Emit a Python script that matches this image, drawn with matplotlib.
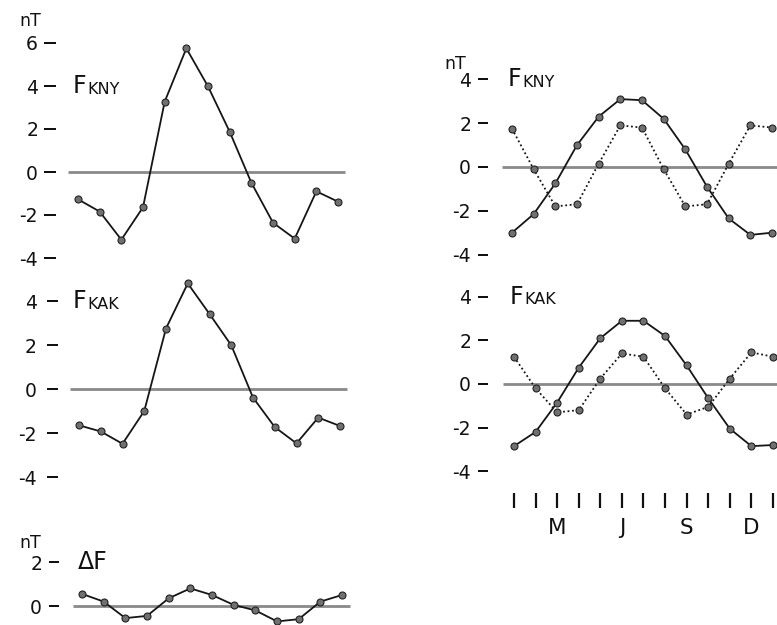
import matplotlib.pyplot as plt
import numpy as np

W, H = 777, 625

# month index 0..12 (Jan .. Jan), 13 points per curve
months = np.arange(13)
month_labels = ["", "", "M", "", "", "J", "", "", "S", "", "", "D", ""]

# left column (nT)
kny_left = [-1.27, -1.84, -3.15, -1.64, 3.27, 5.75, 3.98, 1.87, -0.5, -2.36, -3.1, -0.9, -1.38]
kak_left = [-1.65, -1.93, -2.49, -1.0, 2.75, 4.8, 3.41, 1.99, -0.39, -1.73, -2.47, -1.3, -1.68]
delta_f = [0.55, 0.2, -0.55, -0.45, 0.35, 0.8, 0.5, 0.05, -0.2, -0.7, -0.6, 0.2, 0.5]

# right column: annual (solid) and semiannual (dotted) parts
kny_annual = [-3.0, -2.15, -0.75, 1.0, 2.3, 3.1, 3.05, 2.2, 0.8, -0.9, -2.35, -3.1, -3.0]
kny_semi = [1.75, -0.1, -1.8, -1.7, 0.15, 1.9, 1.8, -0.1, -1.8, -1.7, 0.15, 1.9, 1.8]
kak_annual = [-2.85, -2.2, -0.85, 0.75, 2.1, 2.9, 2.9, 2.2, 0.85, -0.65, -2.05, -2.85, -2.8]
kak_semi = [1.25, -0.2, -1.3, -1.2, 0.25, 1.4, 1.25, -0.2, -1.4, -1.05, 0.25, 1.45, 1.25]

ticks_big = [-4, -2, 0, 2, 4, 6]
ticks_mid = [-4, -2, 0, 2, 4]
ticks_small = [0, 2]

plt.rcParams['font.family'] = 'DejaVu Sans'

fig = plt.figure(figsize=(W / 100, H / 100), dpi=100)

PT = 72 / 100  # points per pixel


def panel(left_px, right_px, x0_px, step_px, zero_px, nt_px, ylo, yhi, ticks, tick_len, pad):
    bottom_img = zero_px - ylo * nt_px
    top_img = zero_px - yhi * nt_px
    ax = fig.add_axes([left_px / W, 1 - bottom_img / H,
                       (right_px - left_px) / W, (bottom_img - top_img) / H])
    ax.set_xlim((left_px - x0_px) / step_px, (right_px - x0_px) / step_px)
    ax.set_ylim(ylo, yhi)
    for s in ax.spines.values():
        s.set_visible(False)
    ax.set_xticks([])
    ax.set_yticks(ticks)
    ax.set_yticklabels([str(t) for t in ticks])
    ax.tick_params(axis='y', direction='out', length=tick_len * PT, width=2 * PT,
                   pad=pad * PT, labelsize=13.5, colors='#111111')
    ax.patch.set_visible(False)
    return ax


def zero_line(ax, x_from, x_to):
    ax.hlines(0, x_from, x_to, color='#8a8a8a', lw=2.8 * PT, zorder=1)


def curve(ax, values, dotted=False):
    ls = (0, (1, 1.5)) if dotted else '-'
    ax.plot(months, values, color='#151515', lw=1.8 * PT, ls=ls, zorder=2,
            marker='o', markersize=7 * PT, markerfacecolor='#707070',
            markeredgecolor='#222222', markeredgewidth=0.8, clip_on=False)


def name_label(ax, x, y, big, small):
    t = ax.text(x, y, big, fontsize=17, va='center', ha='left', color='#111111')
    if small:
        ax.annotate(small, xy=(1.0, 0.0), xycoords=t, fontsize=11.5, va='bottom',
                    ha='left', color='#111111', xytext=(1, 1), textcoords='offset points')


# ---- left column ----
ax1 = panel(56, 352, 78, 21.67, 172, 21.5, -4.6, 6.7, ticks_big, 12, 6)
zero_line(ax1, -0.46, 12.32)
curve(ax1, kny_left)
name_label(ax1, -0.25, 4, "F", "KNY")

ax2 = panel(58, 352, 79, 21.75, 389, 22, -4.5, 5.2, ticks_mid, 11, 10)
zero_line(ax2, -0.41, 12.32)
curve(ax2, kak_left)
name_label(ax2, -0.3, 4, "F", "KAK")

ax3 = panel(59, 355, 82, 21.67, 606, 22, -0.85, 2.6, ticks_small, 10, 7)
zero_line(ax3, -0.42, 12.37)
curve(ax3, delta_f)
name_label(ax3, -0.2, 2, "ΔF", "")

# ---- right column ----
ax4 = panel(488, 777, 512, 21.67, 167, 21.9, -4.6, 4.6, ticks_mid, 10, 7)
zero_line(ax4, -0.46, 12.3)
curve(ax4, kny_semi, dotted=True)
curve(ax4, kny_annual)
name_label(ax4, -0.2, 4, "F", "KNY")

ax5 = panel(488, 777, 514, 21.58, 384, 21.8, -5.0, 4.6, ticks_mid, 10, 7)
zero_line(ax5, -0.5, 12.3)
curve(ax5, kak_semi, dotted=True)
curve(ax5, kak_annual)
name_label(ax5, -0.2, 4, "F", "KAK")
ax5.set_xticks(months)
ax5.set_xticklabels(month_labels)
ax5.tick_params(axis='x', direction='out', length=15 * PT, width=2.2 * PT,
                pad=10 * PT, labelsize=15.5, colors='#111111')

# unit labels
for x, y in [(30, 21), (30, 543), (455, 64)]:
    fig.text(x / W, 1 - y / H, "nT", fontsize=12.5, ha='center', va='center', color='#111111')

fig.savefig("out.png", dpi=100)
